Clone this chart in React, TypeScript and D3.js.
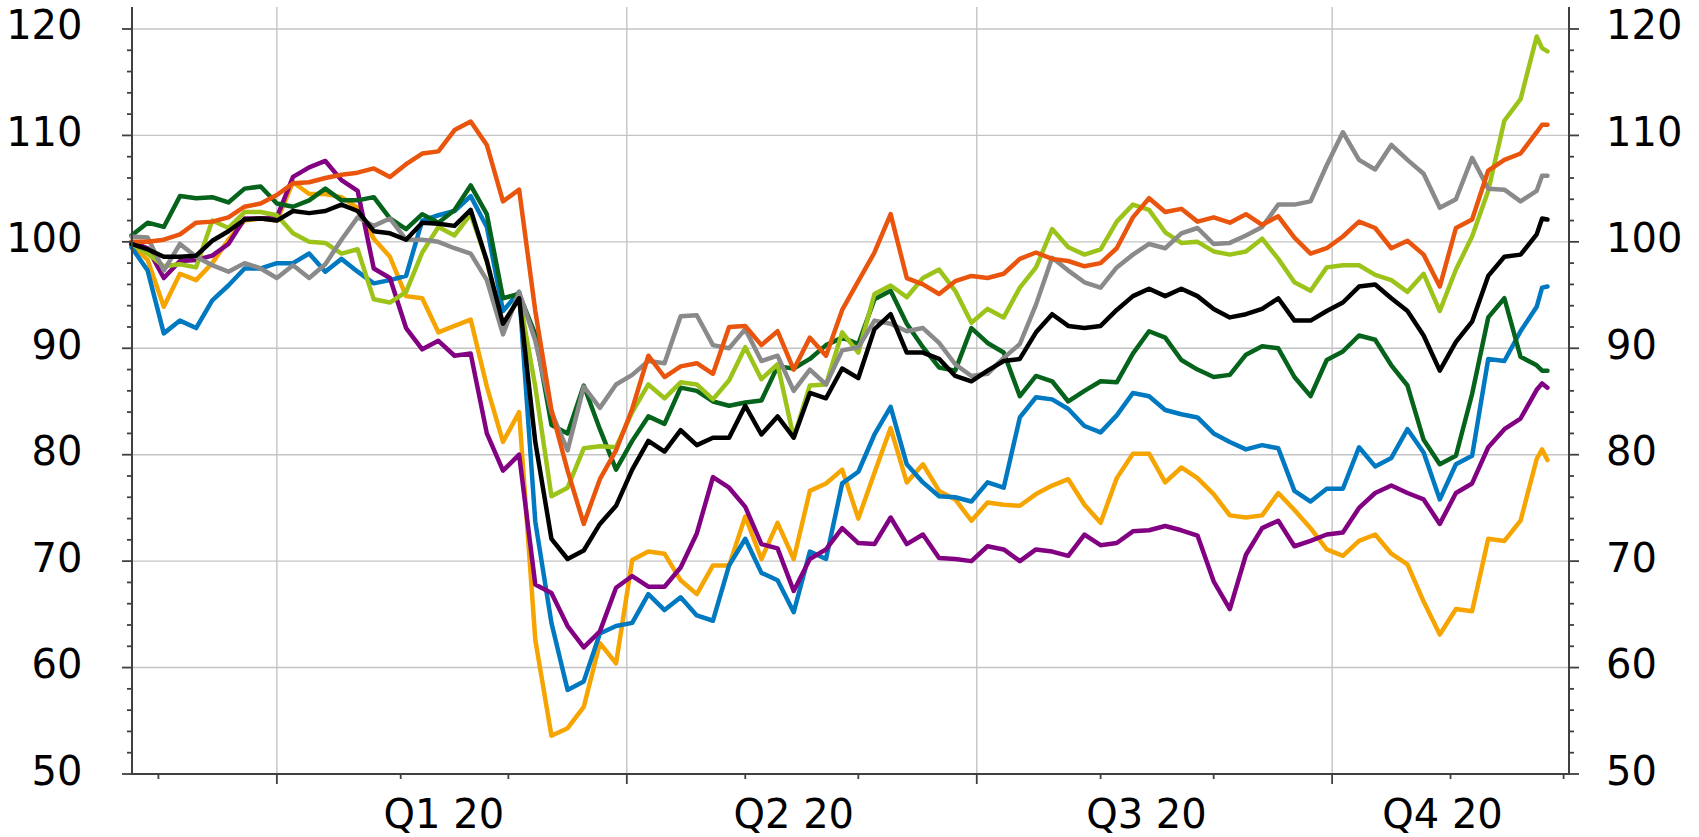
import React from "react";
import * as d3 from "d3";

const WIDTH = 1699;
const HEIGHT = 837;

// trading-day calendar (weekdays) the series are sampled on
const START_DATE = "2019-11-25";
const END_DATE = "2020-12-31";
const X_MAX_INDEX = 267;

// sampled trading-day positions (every 3rd trading day, plus the last two)
const sampleIdx: number[] = [...d3.range(0, 262, 3), 262, 263];

const quarterLabels = ["Q1 20", "Q2 20", "Q3 20", "Q4 20"];
const yMajorTicks = [50, 60, 70, 80, 90, 100, 110, 120];
const yMinorStep = 2;

const blackValues = [
  99.8, 99.3, 98.6, 98.6, 98.7, 100.1, 101, 102.1, 102.2, 102, 102.9, 102.7, 102.9, 103.5, 102.9,
  101,
  100.8, 100.2, 101.8, 101.7, 101.5, 103, 98.2, 92.3, 94.7, 81.2, 72.1, 70.2, 71, 73.5,
  75.2,
  78.6, 81.3, 80.3, 82.3, 80.9, 81.6, 81.6, 84.6, 81.9, 83.6, 81.6, 85.8, 85.3, 88.1,
  87.2,
  91.8, 93.2, 89.6, 89.6, 89, 87.4, 86.9, 87.9, 88.8, 89, 91.5, 93.2, 92.1, 91.9,
  92.1,
  93.6, 94.9, 95.6, 94.9, 95.6, 94.9, 93.7, 92.9, 93.2, 93.7, 94.7, 92.6, 92.6,
  93.5,
  94.3, 95.8, 96, 94.7, 93.5, 91.2, 87.9, 90.6, 92.5, 96.8, 98.6, 98.8, 100.7, 102.2, 102.1,
];

const redValues = [
  100, 100, 100.2, 100.7, 101.8, 101.9, 102.3, 103.3, 103.6, 104.4, 105.5, 105.6, 106, 106.3, 106.5,
  106.9,
  106.1, 107.3, 108.3, 108.5, 110.5, 111.3, 109.1, 103.8, 104.9, 93.5, 84.2, 78.5, 73.5, 77.7,
  80.4,
  84.3, 89.3, 87.3, 88.3, 88.6, 87.6, 92, 92.1, 90.3, 91.6, 88, 91, 89.3, 93.6,
  96.3,
  99, 102.6, 96.6, 96, 95.1, 96.3, 96.8, 96.6, 97, 98.4, 99, 98.4, 98.2, 97.7,
  98,
  99.4, 102.3, 104.1, 102.8, 103.1, 101.9, 102.3, 101.8, 102.6, 101.6, 102.4, 100.4, 98.9,
  99.4,
  100.5, 101.9, 101.3, 99.4, 100.1, 98.8, 95.8, 101.3, 102.1, 106.7, 107.7, 108.3, 110.3, 111, 111,
];

const lightGreenValues = [
  99.8, 98.9, 97.7, 97.9, 97.6, 102, 101.3, 102.8, 102.8, 102.5, 100.8, 100, 99.9, 98.9, 99.3,
  94.6,
  94.3, 95.3, 99, 101.4, 100.6, 102.6, 98.2, 91.9, 94.9, 86.4, 76.1, 76.9, 80.6, 80.8,
  80.7,
  84, 86.6, 85.3, 86.8, 86.6, 85.2, 87, 90.1, 87.1, 88.5, 81.6, 86.5, 86.6, 91.5,
  89.6,
  95.1, 95.9, 94.8, 96.6, 97.4, 95.4, 92.4, 93.7, 92.9, 95.7, 97.6, 101.2, 99.5, 98.8,
  99.3,
  101.9, 103.5, 103, 100.9, 99.9, 100, 99.1, 98.8, 99.1, 100.3, 98.4, 96.2, 95.4,
  97.6,
  97.8, 97.8, 96.9, 96.4, 95.3, 97, 93.5, 97.4, 100.5, 104.8, 111.4, 113.4, 119.3, 118.2, 117.9,
];

const darkGreenValues = [
  100.6, 101.8, 101.4, 104.3, 104.1, 104.2, 103.7, 105, 105.2, 103.6, 103.3, 103.9, 105, 103.9, 103.9,
  104.2,
  102.2, 101.2, 102.6, 101.8, 103, 105.3, 102.6, 94.7, 95.1, 91.3, 82.8, 82, 86.5, 82.4,
  78.6,
  81.3, 83.6, 82.9, 86.3, 86, 85, 84.6, 84.9, 85.1, 88.3, 88.1, 89, 90.3, 91,
  90.4,
  94.6, 95.4, 92.3, 90.1, 88.2, 87.9, 91.9, 90.5, 89.6, 85.5, 87.4, 86.9, 85, 86,
  86.9,
  86.8, 89.5, 91.6, 91, 88.9, 88, 87.3, 87.5, 89.4, 90.2, 90, 87.3, 85.5,
  88.9,
  89.7, 91.2, 90.8, 88.4, 86.5, 81.4, 79.1, 79.9, 85.7, 92.9, 94.7, 89.2, 88.4, 87.9, 87.9,
];

const blueValues = [
  99.5, 97.3, 91.4, 92.6, 91.9, 94.5, 95.9, 97.5, 97.5, 98, 98, 98.9, 97.2, 98.4, 97.2,
  96.1,
  96.4, 96.8, 102, 102.5, 102.9, 104.3, 101.4, 93.5, 95.3, 73.7, 64.2, 57.9, 58.7, 63.2,
  63.9,
  64.2, 66.9, 65.4, 66.6, 64.9, 64.4, 69.6, 72.1, 68.9, 68.2, 65.2, 70.9, 70.2, 77.3,
  78.4,
  81.9, 84.5, 79.1, 77.4, 76.1, 76, 75.6, 77.4, 76.9, 83.5, 85.4, 85.2, 84.3, 82.7,
  82.1,
  83.7, 85.8, 85.5, 84.2, 83.8, 83.5, 82, 81.2, 80.5, 80.9, 80.6, 76.6, 75.6,
  76.8,
  76.8, 80.7, 78.9, 79.7, 82.4, 80.2, 75.8, 79.1, 79.9, 89, 88.8, 91.6, 93.9, 95.7, 95.8,
];

const greyValues = [
  100.5, 100.4, 97.3, 99.8, 98.6, 97.8, 97.2, 98, 97.5, 96.6, 97.8, 96.6, 97.9, 100.2, 102.3,
  101.5,
  102.2, 100.2, 100.2, 100, 99.4, 98.9, 96.4, 91.3, 95.3, 90.7, 84, 80.4, 86.4, 84.4,
  86.6,
  87.5, 88.8, 88.6, 93, 93.1, 90.3, 90, 91.8, 88.8, 89.3, 86, 88, 86.6, 89.8,
  90.1,
  92.6, 92.3, 91.6, 91.9, 90.5, 88.5, 87.4, 87.6, 89.1, 90.4, 94.1, 98.5, 97.3, 96.2,
  95.7,
  97.6, 98.8, 99.8, 99.4, 100.8, 101.3, 99.8, 99.9, 100.6, 101.4, 103.5, 103.5, 103.8,
  107.2,
  110.3, 107.7, 106.8, 109.1, 107.7, 106.4, 103.2, 104, 107.9, 105, 104.9, 103.8, 104.8, 106.2, 106.2,
];

const orangeValues = [
  99.7, 98.3, 93.9, 97, 96.4, 98, 100.2, 102, 102.2, 102, 105.6, 104.5, 104.5, 104.2, 103.2,
  100.3,
  98.6, 94.9, 94.7, 91.5, 92.1, 92.7, 86.4, 81.2, 84, 62.6, 53.6, 54.3, 56.3, 62.3,
  60.4,
  70.1, 70.9, 70.7, 68.2, 66.9, 69.6, 69.6, 74.2, 70.2, 73.6, 70.2, 76.6, 77.3, 78.6,
  74,
  78.3, 82.5, 77.4, 79.1, 76.6, 75.8, 73.8, 75.5, 75.3, 75.2, 76.3, 77.1, 77.7, 75.3,
  73.6,
  77.8, 80.1, 80.1, 77.4, 78.8, 77.8, 76.3, 74.3, 74.1, 74.3, 76.4, 74.8, 73.1,
  71.1,
  70.5, 71.9, 72.5, 70.7, 69.7, 66.2, 63.1, 65.5, 65.3, 72.1, 71.9, 73.8, 79.6, 80.5, 79.5,
];

const purpleValues = [
  100, 99.4, 96.6, 98.2, 98.3, 98.7, 99.8, 102.2, 102.2, 102.3, 106.1, 107, 107.6, 105.8, 104.8,
  97.5,
  96.6, 91.9, 89.9, 90.7, 89.3, 89.5, 82, 78.5, 80, 67.8, 67, 63.9, 61.9, 63.4,
  67.5,
  68.6, 67.6, 67.6, 69.4, 72.6, 77.9, 76.9, 75.1, 71.6, 71.2, 67.2, 70.2, 71.1, 73.1,
  71.7,
  71.6, 74.1, 71.6, 72.5, 70.3, 70.2, 70, 71.4, 71.1, 70, 71.1, 70.9, 70.5, 72.5,
  71.5,
  71.7, 72.8, 72.9, 73.3, 72.9, 72.4, 68.1, 65.5, 70.6, 73.1, 73.8, 71.4, 71.9,
  72.5,
  72.7, 75, 76.4, 77.1, 76.4, 75.8, 73.5, 76.4, 77.3, 80.7, 82.4, 83.4, 86.1, 86.7, 86.3,
];

// drawing order: first is at the bottom
const seriesList = [
  { key: "orange", color: "#f6a400", values: orangeValues },
  { key: "blue", color: "#0079c1", values: blueValues },
  { key: "purple", color: "#820082", values: purpleValues },
  { key: "darkgreen", color: "#05631c", values: darkGreenValues },
  { key: "lightgreen", color: "#9bc31a", values: lightGreenValues },
  { key: "grey", color: "#8a8a8a", values: greyValues },
  { key: "red", color: "#e9550d", values: redValues },
  { key: "black", color: "#000000", values: blackValues },
];

function weekdays(start: string, end: string): Date[] {
  const out: Date[] = [];
  const d = new Date(start + "T00:00:00");
  const e = new Date(end + "T00:00:00");
  while (d <= e) {
    const wd = d.getDay();
    if (wd !== 0 && wd !== 6) out.push(new Date(d));
    d.setDate(d.getDate() + 1);
  }
  return out;
}

const FONT = "'DejaVu Sans', sans-serif";
const AXIS = "#404040";
const GRID = "#c4c4c4";

export default function App() {
  const dates = weekdays(START_DATE, END_DATE);
  const firstIndexOnOrAfter = (dt: Date) => {
    const i = dates.findIndex((d) => d >= dt);
    return i < 0 ? X_MAX_INDEX : i;
  };

  const left = 132;
  const right = 1569;
  const bottom = 774;
  const top = 7;

  const x = d3.scaleLinear().domain([0, X_MAX_INDEX]).range([131.5, right]);
  const y = d3.scaleLinear().domain([50, 122]).range([bottom, 7.7]);

  // month ticks (first trading day of each month)
  const months = d3.timeMonths(new Date(2019, 11, 1), new Date(2021, 0, 1));
  const monthTicks = months
    .map((m) => ({ idx: firstIndexOnOrAfter(m), quarter: m.getMonth() % 3 === 0 }))
    .filter((t) => t.idx <= X_MAX_INDEX);

  const quarterStarts = [0, 3, 6, 9, 12].map((m) => new Date(2020, m, 1));
  const quarters = quarterLabels.map((label, k) => {
    const s = firstIndexOnOrAfter(quarterStarts[k]);
    const e = Math.min(firstIndexOnOrAfter(quarterStarts[k + 1]), X_MAX_INDEX);
    return { label, cx: (x(s) + x(e)) / 2 - 8 };
  });

  const minorTicks = d3.range(50, 122.01, yMinorStep).filter((v) => v <= 120);

  const line = d3
    .line<number>()
    .x((_, i) => x(sampleIdx[i]))
    .y((v) => y(v))
    .curve(d3.curveLinear);

  return (
    <svg
      width={WIDTH}
      height={HEIGHT}
      style={{ position: "absolute", left: 0, top: 0, background: "#fff" }}
    >
      <rect x={0} y={0} width={WIDTH} height={HEIGHT} fill="#fff" />
      {/* horizontal grid */}
      {yMajorTicks
        .filter((v) => v > 50)
        .map((v) => (
          <line key={"hg" + v} x1={left} x2={right} y1={y(v)} y2={y(v)} stroke={GRID} strokeWidth={1.4} />
        ))}
      {/* vertical grid at quarter starts */}
      {monthTicks
        .filter((t) => t.quarter)
        .map((t) => (
          <line key={"vg" + t.idx} x1={x(t.idx)} x2={x(t.idx)} y1={top} y2={bottom} stroke={GRID} strokeWidth={1.4} />
        ))}

      {/* series */}
      {seriesList.map((s) => (
        <path
          key={s.key}
          d={line(s.values) || ""}
          fill="none"
          stroke={s.color}
          strokeWidth={4.5}
          strokeLinejoin="round"
          strokeLinecap="round"
        />
      ))}

      {/* axes */}
      <line x1={left} x2={left} y1={top} y2={bottom + 1} stroke={AXIS} strokeWidth={2} />
      <line x1={right} x2={right} y1={top} y2={bottom + 1} stroke={AXIS} strokeWidth={2} />
      <line x1={left - 1} x2={right + 1} y1={bottom} y2={bottom} stroke={AXIS} strokeWidth={2} />

      {/* y ticks both sides */}
      {minorTicks.map((v) => {
        const major = v % 10 === 0;
        const len = major ? 10 : 5;
        return (
          <g key={"yt" + v}>
            <line x1={left - len} x2={left} y1={y(v)} y2={y(v)} stroke={AXIS} strokeWidth={1.8} />
            <line x1={right} x2={right + len} y1={y(v)} y2={y(v)} stroke={AXIS} strokeWidth={1.8} />
          </g>
        );
      })}

      {/* x ticks */}
      {monthTicks.map((t) => (
        <line
          key={"xt" + t.idx}
          x1={x(t.idx)}
          x2={x(t.idx)}
          y1={bottom}
          y2={bottom + (t.quarter ? 10 : 5)}
          stroke={AXIS}
          strokeWidth={1.8}
        />
      ))}

      {/* y labels */}
      {yMajorTicks.map((v) => (
        <g key={"yl" + v}>
          <text x={82.5} y={y(v) + 10.5} textAnchor="end" fontFamily={FONT} fontSize={40} fill="#000">
            {v}
          </text>
          <text x={1606} y={y(v) + 10.5} textAnchor="start" fontFamily={FONT} fontSize={40} fill="#000">
            {v}
          </text>
        </g>
      ))}

      {/* quarter labels */}
      {quarters.map((q) => (
        <text key={q.label} x={q.cx} y={828} textAnchor="middle" fontFamily={FONT} fontSize={40} fill="#000">
          {q.label}
        </text>
      ))}
    </svg>
  );
}
